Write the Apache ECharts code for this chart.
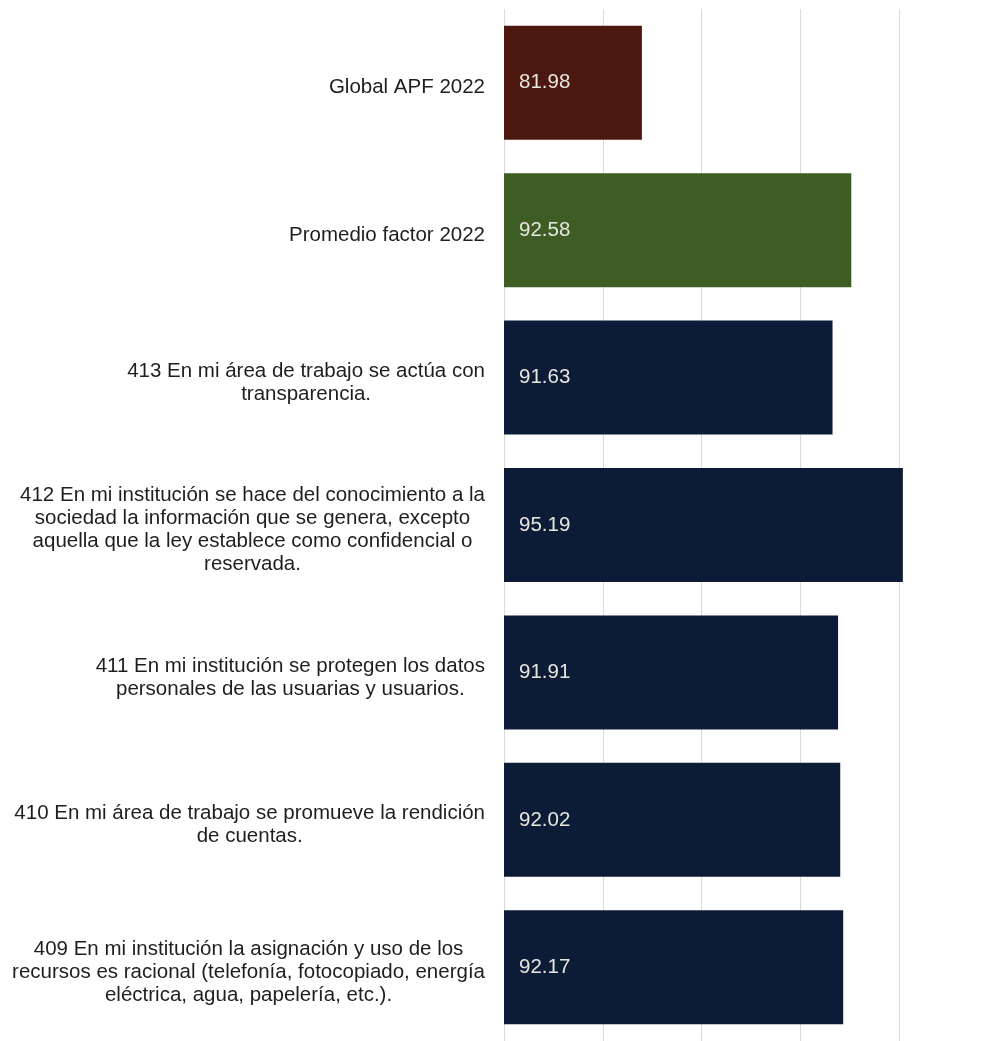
<!DOCTYPE html>
<html>
<head>
<meta charset="utf-8">
<script src="https://cdn.jsdelivr.net/npm/echarts@6/dist/echarts.min.js"></script>
<style>
html,body{margin:0;padding:0;background:#fff;}
#chart{width:989px;height:1041px;}
</style>
</head>
<body>
<div id="chart"></div>
<script>
var categories = [
  "Global APF 2022",
  "Promedio factor 2022",
  "413 En mi área de trabajo se actúa con\ntransparencia.",
  "412 En mi institución se hace del conocimiento a la\nsociedad la información que se genera, excepto\naquella que la ley establece como confidencial o\nreservada.",
  "411 En mi institución se protegen los datos\npersonales de las usuarias y usuarios.",
  "410 En mi área de trabajo se promueve la rendición\nde cuentas.",
  "409 En mi institución la asignación y uso de los\nrecursos es racional (telefonía, fotocopiado, energía\neléctrica, agua, papelería, etc.)."
];
var values = [81.98, 92.58, 91.63, 95.19, 91.91, 92.02, 92.17];
var barColors = ["#4b170f", "#3d5d25", "#0c1b36", "#0c1b36", "#0c1b36", "#0c1b36", "#0c1b36"];
var axisMin = 75, axisMax = 99.55, axisStep = 5;

var chart = echarts.init(document.getElementById('chart'));
chart.setOption({
  animation: false,
  backgroundColor: '#ffffff',
  grid: { left: 504, top: 9, right: 0, height: 1036, containLabel: false },
  xAxis: {
    type: 'value', min: axisMin, max: axisMax, interval: axisStep,
    axisLabel: { show: false }, axisLine: { show: false }, axisTick: { show: false },
    splitLine: { show: true, lineStyle: { color: '#d9d9d9', width: 1 } }
  },
  yAxis: {
    type: 'category', data: categories, inverse: true,
    axisLine: { show: false }, axisTick: { show: false },
    axisLabel: {
      margin: 19, align: 'right', padding: [10, 0, 0, 0],
      formatter: function (v) {
        return v.split('\n').map(function (l) { return '{c|' + l + '}'; }).join('\n');
      },
      rich: { c: { align: 'center', fontSize: 20.5, lineHeight: 23, color: '#1e1e1e', fontFamily: 'Liberation Sans, Arial, sans-serif' } }
    }
  },
  series: [{
    type: 'bar', barWidth: 114,
    data: values.map(function (v, i) { return { value: v, itemStyle: { color: barColors[i] } }; }),
    label: {
      show: true, position: 'insideLeft', distance: 15,
      formatter: function (p) { return p.value.toFixed(2); },
      color: '#e6e6de', fontSize: 20.5, fontFamily: 'Liberation Sans, Arial, sans-serif'
    }
  }]
});
</script>
</body>
</html>
